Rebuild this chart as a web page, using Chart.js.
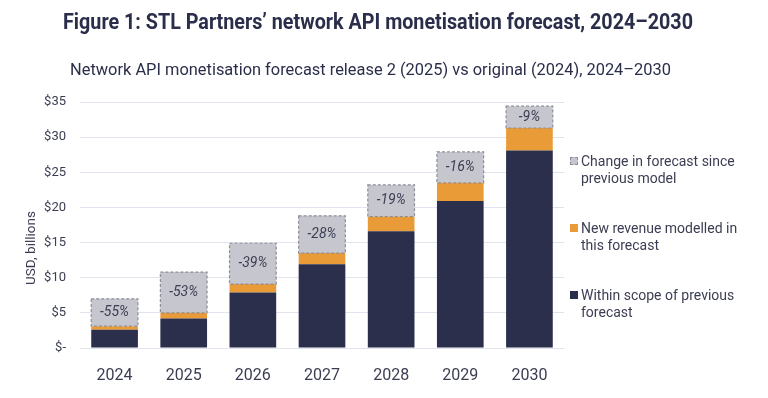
<!DOCTYPE html>
<html>
<head>
<meta charset="utf-8">
<script src="https://cdn.jsdelivr.net/npm/chart.js@4"></script>
<style>
  html, body { margin: 0; padding: 0; background: #fff; }
  #wrap { position: relative; width: 768px; height: 398px; overflow: hidden; }
  #c { position: absolute; left: 0; top: 0; }
  .title { position: absolute; left: 63px; top: 9px; font: bold 22px Roboto, sans-serif; color: #2a2e4a; white-space: nowrap; transform-origin: 0 0; }
  .subtitle { position: absolute; left: 70px; top: 59px; font: 17px Roboto, sans-serif; color: #2a2e4a; white-space: nowrap; transform-origin: 0 0; }
  .legend { position: absolute; left: 570px; font: 14px Roboto, sans-serif; color: #3b3e52; line-height: 16.5px; }
  .legend .item { position: absolute; left: 0; width: 200px; }
  .legend .box { position: absolute; left: 0; top: 4px; width: 8px; height: 8px; box-sizing: border-box; }
  .legend .txt { position: absolute; left: 11px; top: 0; white-space: nowrap; }
</style>
</head>
<body>
<div id="wrap">
  <canvas id="c" width="768" height="398"></canvas>
  <div class="title" id="title" data-w="630">Figure 1: STL Partners’ network API monetisation forecast, 2024–2030</div>
  <div class="subtitle" id="subtitle" data-w="601">Network API monetisation forecast release 2 (2025) vs original (2024), 2024–2030</div>
  <div class="legend" id="legend"></div>
</div>
<script>
const years = ['2024', '2025', '2026', '2027', '2028', '2029', '2030'];
const withinScope = [2.6, 4.2, 7.9, 11.9, 16.6, 20.9, 28.1];
const newRevenue = [0.5, 0.8, 1.2, 1.6, 2.1, 2.6, 3.2];
const forecastChange = [3.9, 5.8, 5.8, 5.3, 4.5, 4.4, 3.1];
const changeLabels = ['-55%', '-53%', '-39%', '-28%', '-19%', '-16%', '-9%'];
const yTickLabels = ['$-', '$5', '$10', '$15', '$20', '$25', '$30', '$35'];

const navy = '#2b2f4b';
const orange = '#e89b37';
const grey = '#c6c6ce';
const textCol = '#3b3e52';

// the original headings use a narrow face, squeeze Roboto to the same width
['title', 'subtitle'].forEach(id => {
  const el = document.getElementById(id);
  const w = el.getBoundingClientRect().width;
  el.style.transform = 'scaleX(' + (el.dataset.w / w) + ')';
});

// legend (html so the lines wrap like the original)
const legendItems = [
  { lines: ['Change in forecast since', 'previous model'], color: grey, dashed: true, top: 153 },
  { lines: ['New revenue modelled in', 'this forecast'], color: orange, top: 220 },
  { lines: ['Within scope of previous', 'forecast'], color: navy, top: 287 }
];
const legendEl = document.getElementById('legend');
legendItems.forEach(it => {
  const d = document.createElement('div');
  d.className = 'item';
  d.style.top = it.top + 'px';
  const b = document.createElement('div');
  b.className = 'box';
  b.style.background = it.color;
  if (it.dashed) b.style.border = '1px dashed #8c8d99';
  const t = document.createElement('div');
  t.className = 'txt';
  t.innerHTML = it.lines.join('<br>');
  d.appendChild(b);
  d.appendChild(t);
  legendEl.appendChild(d);
});

// dashed outline + % label on the grey segment
const changeOutline = {
  id: 'changeOutline',
  afterDatasetsDraw(chart) {
    const meta = chart.getDatasetMeta(2);
    const ctx = chart.ctx;
    ctx.save();
    meta.data.forEach((bar, i) => {
      const left = bar.x - bar.width / 2;
      const top = Math.min(bar.y, bar.base);
      const h = Math.abs(bar.base - bar.y);
      ctx.setLineDash([3, 2]);
      ctx.strokeStyle = '#8c8d99';
      ctx.lineWidth = 1.2;
      ctx.strokeRect(left, top, bar.width, h);
      ctx.setLineDash([]);
      ctx.fillStyle = textCol;
      ctx.font = 'italic 14px Roboto';
      ctx.textAlign = 'center';
      ctx.textBaseline = 'middle';
      ctx.fillText(changeLabels[i], bar.x, top + h / 2);
    });
    ctx.restore();
  }
};

// y axis title sits a bit below the middle in the original
const yTitle = {
  id: 'yTitle',
  afterDraw(chart) {
    const ctx = chart.ctx;
    ctx.save();
    ctx.translate(32, 248);
    ctx.rotate(-Math.PI / 2);
    ctx.fillStyle = textCol;
    ctx.font = '13.5px Roboto';
    ctx.textAlign = 'center';
    ctx.textBaseline = 'middle';
    ctx.fillText('USD, billions', 0, 0);
    ctx.restore();
  }
};

new Chart(document.getElementById('c'), {
  type: 'bar',
  data: {
    labels: years,
    datasets: [
      { label: 'Within scope of previous forecast', data: withinScope, backgroundColor: navy },
      { label: 'New revenue modelled in this forecast', data: newRevenue, backgroundColor: orange },
      { label: 'Change in forecast since previous model', data: forecastChange, backgroundColor: grey }
    ]
  },
  options: {
    responsive: false,
    animation: false,
    layout: { padding: { top: 102, right: 204, bottom: 10, left: 0 } },
    datasets: { bar: { barPercentage: 0.675, categoryPercentage: 1 } },
    plugins: { legend: { display: false }, tooltip: { enabled: false } },
    scales: {
      x: {
        stacked: true,
        grid: { display: false },
        border: { display: false },
        ticks: { color: textCol, font: { family: 'Roboto', size: 16 }, padding: 10 },
        afterFit(scale) { scale.height = 40; }
      },
      y: {
        stacked: true,
        min: 0,
        max: 35,
        border: { display: false },
        grid: { color: '#e3e3ee', drawTicks: false },
        ticks: {
          stepSize: 5,
          color: textCol,
          font: { family: 'Roboto', size: 13 },
          padding: 14,
          callback: (v, i) => yTickLabels[i]
        },
        afterFit(scale) { scale.width = 80; }
      }
    }
  },
  plugins: [changeOutline, yTitle]
});
</script>
</body>
</html>
